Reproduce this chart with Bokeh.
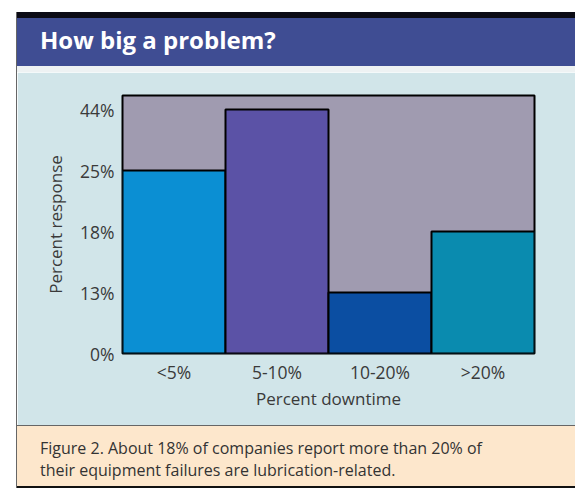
from bokeh.plotting import figure
from bokeh.models import FactorRange, Range1d, FixedTicker, Div, ColumnDataSource
from bokeh.layouts import column
from bokeh.embed import file_html
from bokeh.resources import INLINE

categories = ["<5%", "5-10%", "10-20%", ">20%"]
values = [25, 44, 13, 18]
tick_values = [0, 13, 18, 25, 44]
tick_labels = ["0%", "13%", "18%", "25%", "44%"]
colors = ["#0B8FD3", "#5B52A6", "#0B4EA2", "#0A8BAF"]

title_text = "How big a problem?"
caption_text = ("Figure 2. About 18% of companies report more than 20% of<br>"
                "their equipment failures are lubrication-related.")

# The y axis of the original places its tick labels at equal steps
tick_pos = list(range(len(tick_values)))
tops = [tick_values.index(v) for v in values]

FONT = "Open Sans"
TXT = "#3a3a3a"
PANEL = "#D1E5E9"
W = 558

src = ColumnDataSource(dict(cat=categories, top=tops, color=colors))

p = figure(x_range=FactorRange(factors=categories, range_padding=0),
           y_range=Range1d(0, 4.23),
           width=W, height=353, output_backend="svg", toolbar_location=None,
           min_border_left=105, min_border_right=41, min_border_top=23,
           min_border_bottom=72, margin=0)
p.vbar(x="cat", top="top", width=1.0, bottom=0, source=src,
       fill_color="color", line_color="black", line_width=2)

p.background_fill_color = "#A09BB0"
p.border_fill_color = PANEL
p.outline_line_color = "black"
p.outline_line_width = 2
p.xgrid.grid_line_color = None
p.ygrid.grid_line_color = None

p.yaxis.ticker = FixedTicker(ticks=tick_pos)
p.yaxis.major_label_overrides = {i: lab for i, lab in zip(tick_pos, tick_labels)}
p.yaxis.axis_label = "Percent response"
p.xaxis.axis_label = "Percent downtime"

for ax in (p.xaxis[0], p.yaxis[0]):
    ax.axis_line_color = None
    ax.major_tick_line_color = None
    ax.minor_tick_line_color = None
    ax.major_label_text_font = FONT
    ax.major_label_text_font_size = "17.5px"
    ax.major_label_text_color = TXT
    ax.axis_label_text_font = FONT
    ax.axis_label_text_font_size = "17px"
    ax.axis_label_text_font_style = "normal"
    ax.axis_label_text_color = TXT

p.yaxis.major_label_standoff = 2
p.yaxis.axis_label_standoff = 10
p.xaxis.major_label_standoff = 0
p.xaxis.axis_label_standoff = 0

strip = Div(text="", width=W, height=6, margin=0,
            styles={"background-color": "#0b0b14"})
title = Div(text=f'<div style="margin-left:23px;line-height:42px;padding-top:1px;">{title_text}</div>',
            width=W, height=48, margin=0,
            styles={"background-color": "#3F4D93", "color": "white",
                    "font-family": FONT, "font-weight": "bold",
                    "font-size": "24px"})
sep = Div(text="", width=W, height=6, margin=0,
          styles={"background-color": "#EEF2F3"})
caption = Div(text=f'<div style="margin-left:23px;padding-top:11px;line-height:22px;">{caption_text}</div>',
              width=W, height=63, margin=0,
              styles={"background-color": "#FDE7CC", "color": "#333333",
                      "font-family": FONT, "font-size": "16px",
                      "border-top": "1px solid #666666",
                      "border-bottom": "2px solid #111111",
                      "box-sizing": "border-box"})

layout = column(strip, title, sep, p, caption, spacing=0, margin=(12, 0, 0, 16),
                styles={"border-left": "1px solid #666666"})

open("out.html", "w").write(file_html(layout, INLINE))
